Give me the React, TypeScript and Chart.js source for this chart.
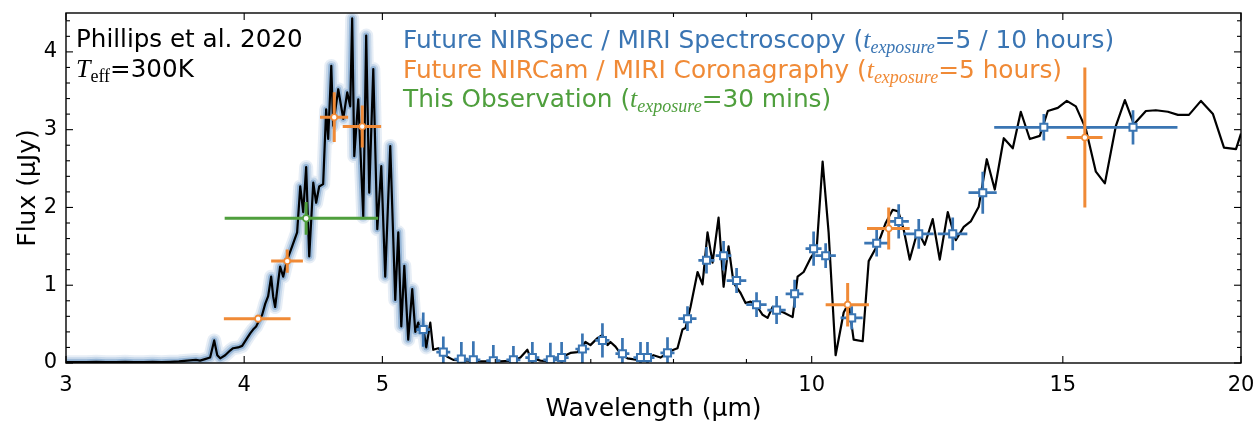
import { useEffect, useRef } from 'react';
import { Chart, registerables } from 'chart.js';
Chart.register(...registerables);

// ---- model spectrum, high-resolution part (with uncertainty band) ----
const hiResWave = [3.00, 3.05, 3.10, 3.15, 3.20, 3.25, 3.30, 3.35, 3.40, 3.45, 3.50, 3.55, 3.60,
  3.648, 3.70, 3.725, 3.755, 3.786, 3.811, 3.830, 3.848, 3.879, 3.910, 3.929, 3.961, 3.987,
  4.019, 4.039, 4.058, 4.078, 4.098, 4.118, 4.138, 4.158, 4.178, 4.192,
  4.205, 4.226, 4.239, 4.260, 4.288, 4.322, 4.357, 4.379, 4.400, 4.421,
  4.443, 4.472, 4.493, 4.515, 4.544, 4.566, 4.581, 4.604, 4.618, 4.656,
  4.694, 4.724, 4.747, 4.762, 4.778, 4.809, 4.848, 4.871, 4.895, 4.927,
  4.959, 4.991, 5.023, 5.064, 5.105, 5.130, 5.155, 5.180, 5.213, 5.247,
  5.273, 5.298, 5.315, 5.341, 5.367];
const hiResFlux = [0.01, 0.01, 0.01, 0.015, 0.01, 0.01, 0.015, 0.01, 0.01, 0.015, 0.01, 0.015, 0.02,
  0.03, 0.04, 0.03, 0.05, 0.07, 0.29, 0.10, 0.06, 0.10, 0.16, 0.19, 0.20, 0.22,
  0.32, 0.38, 0.43, 0.47, 0.55, 0.62, 0.76, 0.86, 1.11, 0.85,
  0.72, 1.05, 1.24, 1.11, 1.33, 1.50, 1.68, 2.27, 1.94, 2.52,
  1.37, 2.32, 2.06, 2.27, 2.30, 3.26, 2.88, 3.82, 3.05, 3.52,
  3.14, 3.48, 3.30, 4.43, 2.66, 3.39, 1.88, 4.21, 2.19, 3.78,
  1.72, 2.53, 1.11, 2.79, 0.81, 1.68, 0.47, 1.25, 0.30, 0.95,
  0.40, 0.52, 0.40, 0.45, 0.20];

// ---- model spectrum, low-resolution part ----
const loResWave = [5.402, 5.428, 5.472, 5.552, 5.606, 5.735, 5.857, 6.049, 6.178, 6.248,
  6.319, 6.350, 6.453, 6.558, 6.687, 6.774, 6.851, 6.940, 6.996, 7.076,
  7.133, 7.191, 7.226, 7.285, 7.344, 7.427, 7.548, 7.671, 7.746, 7.834,
  7.923, 8.000, 8.052, 8.117, 8.157, 8.223, 8.317, 8.384, 8.452, 8.521,
  8.604, 8.674, 8.744, 8.815, 8.915, 8.987, 9.060, 9.163, 9.238, 9.313,
  9.388, 9.464, 9.556, 9.697, 9.775, 9.871, 9.983, 10.080, 10.178, 10.277,
  10.394, 10.530, 10.615, 10.701, 10.858, 10.964, 11.124, 11.269, 11.397, 11.50,
  11.60, 11.715, 11.867, 12.002, 12.158, 12.297, 12.457, 12.619, 12.783, 12.928,
  13.096, 13.267, 13.439, 13.636, 13.836, 14.016, 14.221, 14.453, 14.641, 14.879,
  15.097, 15.319, 15.568, 15.822, 16.054, 16.342, 16.581, 16.824, 17.153, 17.433,
  17.774, 18.064, 18.388, 18.748, 19.115, 19.458, 19.839, 20.0];
const loResFlux = [0.52, 0.17, 0.19, 0.08, 0.04, 0.03, 0.02, 0.02, 0.03, 0.07,
  0.17, 0.07, 0.03, 0.02, 0.08, 0.13, 0.14, 0.27, 0.23, 0.32,
  0.36, 0.23, 0.27, 0.21, 0.12, 0.06, 0.04, 0.06, 0.10, 0.07,
  0.13, 0.17, 0.19, 0.43, 0.45, 0.72, 1.17, 1.01, 1.68, 1.29,
  1.87, 0.98, 1.50, 1.03, 0.90, 0.77, 0.79, 0.72, 0.62, 0.58,
  0.72, 0.68, 0.65, 0.59, 1.11, 1.17, 1.35, 1.46, 2.59, 1.68,
  0.10, 0.65, 0.77, 0.30, 0.28, 1.31, 1.52, 1.80, 1.97, 1.95,
  1.72, 1.33, 1.70, 1.52, 1.85, 1.33, 1.94, 1.58, 1.75, 1.82,
  2.01, 2.62, 2.23, 2.89, 2.76, 3.23, 2.88, 2.92, 3.24, 3.28,
  3.37, 3.30, 3.01, 2.46, 2.31, 3.05, 3.38, 3.07, 3.24, 3.25,
  3.23, 3.19, 3.19, 3.37, 3.20, 2.77, 2.75, 2.95];

// ---- Future NIRSpec / MIRI spectroscopy ----
const specWave = [5.341, 5.517, 5.680, 5.791, 5.981, 6.178, 6.370, 6.558, 6.678, 6.906,
  7.133, 7.367, 7.585, 7.671, 7.923, 8.183, 8.438, 8.674, 8.858, 9.148,
  9.449, 9.728, 10.031, 10.228, 10.667, 11.106, 11.508, 11.887, 12.557, 13.181,
  14.547, 16.80];
const specFlux = [0.43, 0.14, 0.05, 0.04, 0.03, 0.04, 0.07, 0.04, 0.07, 0.18,
  0.29, 0.12, 0.07, 0.07, 0.13, 0.57, 1.32, 1.38, 1.06, 0.75,
  0.68, 0.89, 1.47, 1.38, 0.58, 1.54, 1.82, 1.66, 1.66, 2.19,
  3.03, 3.03];
const specXErr = [0.060, 0.062, 0.064, 0.066, 0.068, 0.070, 0.072, 0.074, 0.076, 0.078,
  0.081, 0.083, 0.086, 0.087, 0.090, 0.12, 0.11, 0.11, 0.14, 0.15,
  0.14, 0.14, 0.13, 0.17, 0.19, 0.22, 0.19, 0.29, 0.30, 0.30,
  1.12, 1.25];
const specYErr = [0.22, 0.20, 0.22, 0.24, 0.20, 0.18, 0.20, 0.22, 0.20, 0.20,
  0.22, 0.20, 0.20, 0.20, 0.20, 0.16, 0.17, 0.19, 0.16, 0.16,
  0.18, 0.18, 0.22, 0.16, 0.15, 0.17, 0.22, 0.19, 0.21, 0.27,
  0.17, 0.22];

// ---- Future NIRCam / MIRI coronagraphy ----
const coroWave = [4.091, 4.288, 4.626, 4.840, 10.598, 11.324, 15.543];
const coroFlux = [0.57, 1.31, 3.16, 3.04, 0.75, 1.73, 2.90];
const coroXErr = [0.22, 0.11, 0.105, 0.15, 0.37, 0.39, 0.45];
const coroYErr = [0.05, 0.15, 0.32, 0.27, 0.28, 0.27, 0.90];

// ---- This observation ----
const obsWave = [4.421];
const obsFlux = [1.86];
const obsXErr = [0.545];
const obsYErr = [0.21];

// ---- axes ----
const xTickValues = [3, 4, 5, 6, 7, 8, 9, 10, 15, 20];
const xTickLabels = ['3', '4', '5', '', '', '', '', '10', '15', '20'];
const yTickValues = [0, 1, 2, 3, 4];
const yMinorStep = 0.2;

const BLUE = '#3a75b3';
const ORANGE = '#f08a36';
const GREEN = '#4f9f3d';
const SANS = 'DejaVu Sans';
const SERIF = 'Liberation Serif';

const pts = (xs: number[], ys: number[]) => xs.map((x, i) => ({ x, y: ys[i] }));

const errorBarPlugin = {
  id: 'errorBars',
  beforeDatasetDraw(chart: any, args: any) {
    const ds = chart.data.datasets[args.index];
    if (!ds.errX) return;
    const { ctx, chartArea: a } = chart;
    const xs = chart.scales.x, ys = chart.scales.y;
    ctx.save();
    ctx.beginPath();
    ctx.rect(a.left, a.top, a.right - a.left, a.bottom - a.top);
    ctx.clip();
    ctx.strokeStyle = ds.errColor;
    ctx.lineWidth = ds.errWidth;
    ctx.lineCap = 'butt';
    ds.data.forEach((p: any, i: number) => {
      const cx = xs.getPixelForValue(p.x), cy = ys.getPixelForValue(p.y);
      const x0 = xs.getPixelForValue(p.x - ds.errX[i]);
      const x1 = xs.getPixelForValue(p.x + ds.errX[i]);
      const y0 = ys.getPixelForValue(p.y - ds.errY[i]);
      const y1 = ys.getPixelForValue(p.y + ds.errY[i]);
      ctx.beginPath();
      ctx.moveTo(x0, cy); ctx.lineTo(x1, cy);
      ctx.moveTo(cx, y0); ctx.lineTo(cx, y1);
      ctx.stroke();
    });
    ctx.restore();
  },
};

const frameTicksPlugin = {
  id: 'frameTicks',
  afterDatasetsDraw(chart: any) {
    const { ctx, chartArea: a } = chart;
    const xs = chart.scales.x, ys = chart.scales.y;
    ctx.save();
    ctx.strokeStyle = '#000';
    const seg = (x0: number, y0: number, x1: number, y1: number) => {
      ctx.beginPath(); ctx.moveTo(x0, y0); ctx.lineTo(x1, y1); ctx.stroke();
    };
    ctx.lineWidth = 1.1;
    xTickValues.forEach((v, i) => {
      const px = xs.getPixelForValue(v);
      const len = xTickLabels[i] ? 7 : 4;
      seg(px, a.bottom, px, a.bottom - len);
      seg(px, a.top, px, a.top + len);
    });
    const yMax = ys.max;
    for (let v = 0; v <= yMax + 1e-9; v += yMinorStep) {
      const isMajor = yTickValues.some((t) => Math.abs(t - v) < 1e-6);
      const py = ys.getPixelForValue(v);
      const len = isMajor ? 7 : 4;
      seg(a.left, py, a.left + len, py);
      seg(a.right, py, a.right - len, py);
    }
    ctx.lineWidth = 1.4;
    ctx.strokeRect(a.left, a.top, a.right - a.left, a.bottom - a.top);
    ctx.restore();
  },
};

type Part = { t: string; f: string; dy?: number };
const sub = (t: string): Part => ({ t, f: `italic 18px "${SERIF}"`, dy: 5 });

const textPlugin = {
  id: 'annotText',
  afterDraw(chart: any) {
    const { ctx } = chart;
    const line = (x: number, y: number, color: string, parts: Part[]) => {
      ctx.fillStyle = color;
      ctx.textBaseline = 'alphabetic';
      ctx.textAlign = 'left';
      let cx = x;
      parts.forEach((p) => {
        ctx.font = p.f;
        ctx.fillText(p.t, cx, y + (p.dy || 0));
        cx += ctx.measureText(p.t).width;
      });
    };
    ctx.save();
    const sans = `24.8px "${SANS}"`;
    const tItalic = `italic 26px "${SERIF}"`;
    line(76, 47, '#000', [{ t: 'Phillips et al. 2020', f: `24.6px "${SANS}"` }]);
    line(76, 77, '#000', [
      { t: 'T', f: `italic 26px "${SERIF}"` },
      { t: 'eff', f: `18px "${SERIF}"`, dy: 5 },
      { t: '=300K', f: `24.6px "${SANS}"` },
    ]);
    line(403, 48, BLUE, [
      { t: 'Future NIRSpec / MIRI Spectroscopy (', f: sans },
      { t: 't', f: tItalic },
      sub('exposure'),
      { t: '=5 / 10 hours)', f: sans },
    ]);
    line(403, 78, ORANGE, [
      { t: 'Future NIRCam / MIRI Coronagraphy (', f: sans },
      { t: 't', f: tItalic },
      sub('exposure'),
      { t: '=5 hours)', f: sans },
    ]);
    line(403, 107, GREEN, [
      { t: 'This Observation (', f: sans },
      { t: 't', f: tItalic },
      sub('exposure'),
      { t: '=30 mins)', f: sans },
    ]);
    ctx.restore();
  },
};

const zeroPad = (s: any) => {
  s.paddingLeft = 0; s.paddingRight = 0; s.paddingTop = 0; s.paddingBottom = 0;
};

export default function App() {
  const ref = useRef<HTMLCanvasElement>(null);
  useEffect(() => {
    const canvas = ref.current;
    if (!canvas) return;
    const bandPts = pts(hiResWave, hiResFlux);
    const modelPts = pts(hiResWave, hiResFlux).concat(pts(loResWave, loResFlux));
    const band = (width: number, alpha: number, order: number) => ({
      label: 'band', data: bandPts,
      borderColor: `rgba(58,117,179,${alpha})`, borderWidth: width, pointRadius: 0,
      borderJoinStyle: 'round', borderCapStyle: 'round', clip: 0, order,
    } as any);
    const chart = new Chart(canvas, {
      type: 'line',
      data: {
        datasets: [
          band(14, 0.12, 12),
          band(10, 0.18, 11),
          band(6, 0.35, 10),
          {
            label: 'model', data: modelPts,
            borderColor: '#000', borderWidth: 2.2, pointRadius: 0,
            borderJoinStyle: 'round', order: 8,
          } as any,
          {
            label: 'spec', data: pts(specWave, specFlux), showLine: false,
            pointStyle: 'rect', pointRadius: 5, pointBackgroundColor: '#fff',
            pointBorderColor: BLUE, pointBorderWidth: 2,
            errX: specXErr, errY: specYErr, errColor: BLUE, errWidth: 2.7, order: 3,
          } as any,
          {
            label: 'coro', data: pts(coroWave, coroFlux), showLine: false,
            pointStyle: 'circle', pointRadius: 3, pointBackgroundColor: '#fff',
            pointBorderColor: ORANGE, pointBorderWidth: 1.6,
            errX: coroXErr, errY: coroYErr, errColor: ORANGE, errWidth: 3, order: 2,
          } as any,
          {
            label: 'obs', data: pts(obsWave, obsFlux), showLine: false,
            pointStyle: 'circle', pointRadius: 3.2, pointBackgroundColor: '#fff',
            pointBorderColor: GREEN, pointBorderWidth: 1.6,
            errX: obsXErr, errY: obsYErr, errColor: GREEN, errWidth: 3, order: 1,
          } as any,
        ],
      },
      options: {
        responsive: false,
        animation: false,
        devicePixelRatio: 1,
        layout: { padding: { left: 0, right: 17, top: 13, bottom: 0 } },
        plugins: { legend: { display: false }, tooltip: { enabled: false } },
        elements: { line: { tension: 0 } },
        scales: {
          x: {
            type: 'logarithmic', min: 3, max: 20,
            grid: { display: false, drawTicks: false }, border: { display: false },
            afterBuildTicks: (s: any) => { s.ticks = xTickValues.map((v) => ({ value: v })); },
            afterFit: (s: any) => { s.height = 61; zeroPad(s); },
            ticks: {
              autoSkip: false, maxRotation: 0, minRotation: 0, padding: 10, color: '#000',
              font: { family: SANS, size: 21 },
              callback: (v: any) => {
                const i = xTickValues.indexOf(Number(v));
                return i >= 0 ? xTickLabels[i] : '';
              },
            },
            title: {
              display: true, text: 'Wavelength (μm)', color: '#000',
              font: { family: SANS, size: 25 }, padding: { top: 0, bottom: 0 },
            },
          },
          y: {
            type: 'linear', min: 0, max: 4.5,
            grid: { display: false, drawTicks: false }, border: { display: false },
            afterBuildTicks: (s: any) => { s.ticks = yTickValues.map((v) => ({ value: v })); },
            afterFit: (s: any) => { s.width = 66; zeroPad(s); },
            ticks: {
              padding: 9, color: '#000', font: { family: SANS, size: 21 },
              callback: (v: any) => String(v),
            },
            title: {
              display: true, text: 'Flux (μJy)', color: '#000',
              font: { family: SANS, size: 25 }, padding: { top: 13, bottom: 0 },
            },
          },
        },
      } as any,
      plugins: [errorBarPlugin, frameTicksPlugin, textPlugin],
    });
    return () => chart.destroy();
  }, []);
  return (
    <div style={{ position: 'fixed', left: 0, top: 0, width: 1258, height: 424, background: '#fff' }}>
      <canvas ref={ref} width={1258} height={424} style={{ display: 'block', width: 1258, height: 424 }} />
    </div>
  );
}
